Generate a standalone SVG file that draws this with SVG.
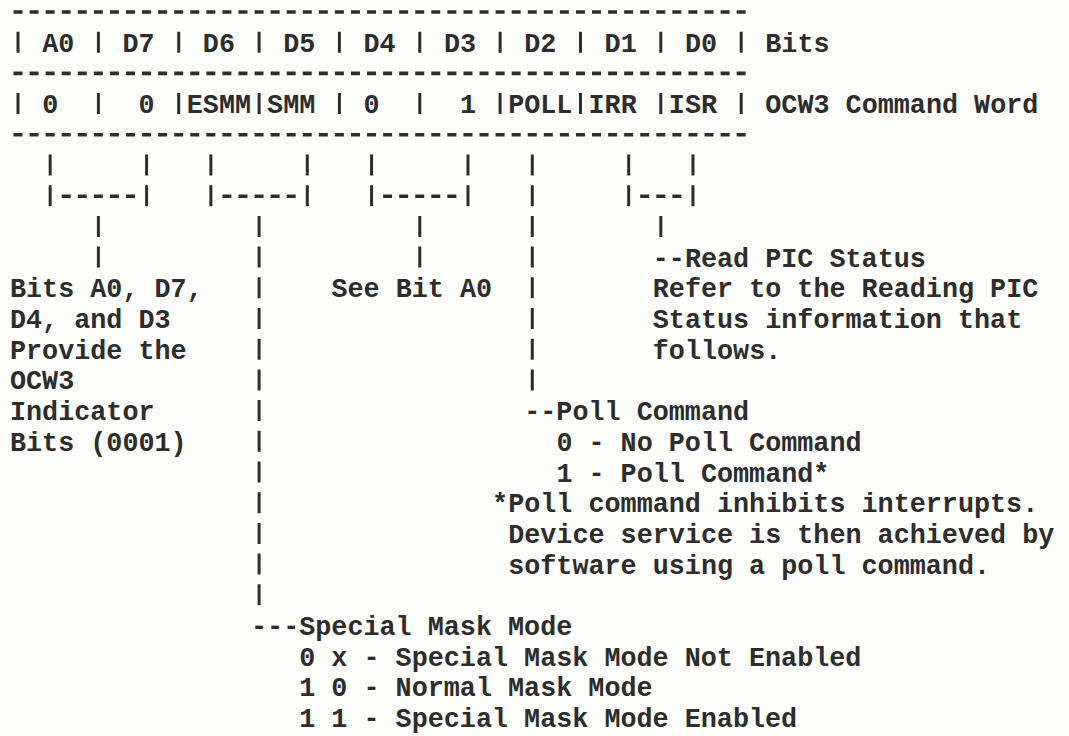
<svg xmlns="http://www.w3.org/2000/svg" width="1069" height="736" viewBox="0 0 1069 736">
<style>
.t{font-family:"Liberation Mono","DejaVu Sans Mono",monospace;font-size:26.78px;font-weight:bold;fill:#2d2d2d;white-space:pre}
.rule{stroke:#2d2d2d;stroke-width:3.6;stroke-dasharray:9 7.07;fill:none}
.pipe{stroke:#2d2d2d;stroke-width:3;fill:none}
.vline{stroke:#2d2d2d;stroke-width:3;stroke-dasharray:21 9.7;fill:none}
</style>
<rect width="1069" height="736" fill="#fdfdfc"/>

<g id="bit-table">
  <line class="rule" x1="13.5" y1="12" x2="745.7" y2="12"/>
  <line class="rule" x1="13.5" y1="73.4" x2="745.7" y2="73.4"/>
  <line class="rule" x1="13.5" y1="134.8" x2="745.7" y2="134.8"/>
  <path class="pipe" d="M18 31.7V52.7M98.4 31.7V52.7M178.7 31.7V52.7M259.1 31.7V52.7M339.4 31.7V52.7M419.8 31.7V52.7M500.1 31.7V52.7M580.5 31.7V52.7M660.8 31.7V52.7M741.2 31.7V52.7"/>
  <path class="pipe" d="M18 93.1V114.1M98.4 93.1V114.1M178.7 93.1V114.1M259.1 93.1V114.1M339.4 93.1V114.1M419.8 93.1V114.1M500.1 93.1V114.1M580.5 93.1V114.1M660.8 93.1V114.1M741.2 93.1V114.1"/>
  <g id="row-bits">
    <text class="t" x="42.14" y="51.7">A0</text>
    <text class="t" x="122.49" y="51.7">D7</text>
    <text class="t" x="202.84" y="51.7">D6</text>
    <text class="t" x="283.19" y="51.7">D5</text>
    <text class="t" x="363.54" y="51.7">D4</text>
    <text class="t" x="443.89" y="51.7">D3</text>
    <text class="t" x="524.24" y="51.7">D2</text>
    <text class="t" x="604.59" y="51.7">D1</text>
    <text class="t" x="684.94" y="51.7">D0</text>
    <text class="t" x="765.29" y="51.7">Bits</text>
  </g>
  <g id="row-ocw3">
    <text class="t" x="42.14" y="113.1">0</text>
    <text class="t" x="138.56" y="113.1">0</text>
    <text class="t" x="186.77" y="113.1">ESMM</text>
    <text class="t" x="267.12" y="113.1">SMM</text>
    <text class="t" x="363.54" y="113.1">0</text>
    <text class="t" x="459.96" y="113.1">1</text>
    <text class="t" x="508.17" y="113.1">POLL</text>
    <text class="t" x="588.52" y="113.1">IRR</text>
    <text class="t" x="668.87" y="113.1">ISR</text>
    <text class="t" x="765.29" y="113.1">OCW3 Command Word</text>
  </g>
</g>

<g id="connectors">
  <path class="vline" d="M50.17 154.5V206.2M146.59 154.5V206.2M210.87 154.5V206.2M307.29 154.5V206.2M371.57 154.5V206.2M467.99 154.5V206.2M628.69 154.5V206.2M692.97 154.5V206.2"/>
  <path class="vline" d="M532.27 154.5V390.4"/>
  <path class="rule" d="M61.71 196.2H135.06M222.41 196.2H295.76M383.11 196.2H456.46M640.23 196.2H681.44"/>
  <path class="vline" d="M98.38 215.9V267.6M419.78 215.9V267.6M660.83 215.9V236.9"/>
  <path class="vline" d="M259.08 215.9V605.3"/>
</g>

<g id="indicator-note">
  <text class="t" x="10" y="297.3">Bits A0, D7,</text>
  <text class="t" x="10" y="328">D4, and D3</text>
  <text class="t" x="10" y="358.7">Provide the</text>
  <text class="t" x="10" y="389.4">OCW3</text>
  <text class="t" x="10" y="420.1">Indicator</text>
  <text class="t" x="10" y="450.8">Bits (0001)</text>
</g>

<g id="see-bit-a0">
  <text class="t" x="331.4" y="297.3">See Bit A0</text>
</g>

<g id="read-pic-status">
  <text class="t" x="652.8" y="266.6">--Read PIC Status</text>
  <text class="t" x="652.8" y="297.3">Refer to the Reading PIC</text>
  <text class="t" x="652.8" y="328">Status information that</text>
  <text class="t" x="652.8" y="358.7">follows.</text>
</g>

<g id="poll-command">
  <text class="t" x="524.24" y="420.1">--Poll Command</text>
  <text class="t" x="556.38" y="450.8">0 - No Poll Command</text>
  <text class="t" x="556.38" y="481.5">1 - Poll Command*</text>
  <text class="t" x="492.1" y="512.2">*Poll command inhibits interrupts.</text>
  <text class="t" x="508.17" y="542.9">Device service is then achieved by</text>
  <text class="t" x="508.17" y="573.6">software using a poll command.</text>
</g>

<g id="special-mask-mode">
  <text class="t" x="251.05" y="635">---Special Mask Mode</text>
  <text class="t" x="299.26" y="665.7">0 x - Special Mask Mode Not Enabled</text>
  <text class="t" x="299.26" y="696.4">1 0 - Normal Mask Mode</text>
  <text class="t" x="299.26" y="727.1">1 1 - Special Mask Mode Enabled</text>
</g>
</svg>
